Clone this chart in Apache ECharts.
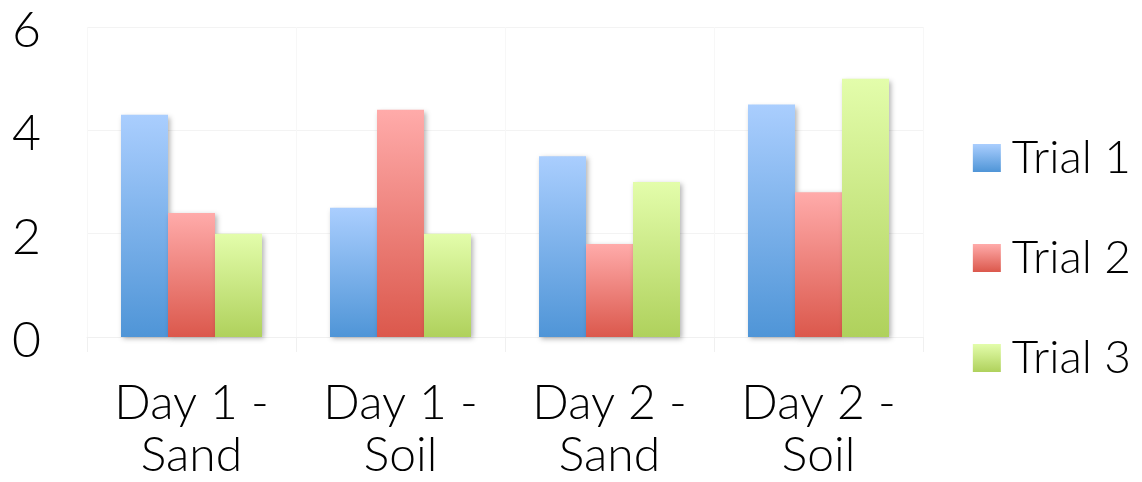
<!DOCTYPE html>
<html><head><meta charset="utf-8">
<script src="https://cdn.jsdelivr.net/npm/echarts@6/dist/echarts.min.js"></script>
<style>html,body{margin:0;padding:0;background:#fff}#c{width:1142px;height:482px}</style>
</head><body><div id="c"></div>
<script>
const categories = ['Day 1 -\nSand', 'Day 1 -\nSoil', 'Day 2 -\nSand', 'Day 2 -\nSoil'];
const seriesNames = ['Trial 1', 'Trial 2', 'Trial 3'];
const trial1 = [4.3, 2.5, 3.5, 4.5];
const trial2 = [2.4, 4.4, 1.8, 2.8];
const trial3 = [2.0, 2.0, 3.0, 5.0];
const yTicks = [0, 2, 4, 6];

const grads = [['#aacefe', '#4f95d7'], ['#ffabaa', '#db584c'], ['#e3fdab', '#afd15c']];
function grad(c) {
  return new echarts.graphic.LinearGradient(0, 0, 0, 1, [{offset: 0, color: c[0]}, {offset: 1, color: c[1]}]);
}
const FONT = 'Lato';
const chart = echarts.init(document.getElementById('c'));
const data = [trial1, trial2, trial3];
chart.setOption({
  animation: false,
  grid: {left: 87, right: 219, top: 27, bottom: 141},
  legend: {
    orient: 'vertical', right: 6, top: 125,
    itemWidth: 28, itemHeight: 28, itemGap: 44,
    icon: 'rect',
    textStyle: {fontFamily: FONT, fontWeight: 300, fontSize: 46, color: '#000', lineHeight: 56, padding: [0,0,0,6]},
    data: seriesNames
  },
  xAxis: {
    type: 'category', data: categories,
    axisLine: {show: true, lineStyle: {color: '#f0f0f0'}},
    axisTick: {show: true, length: 15, lineStyle: {color: '#f0f0f0'}},
    splitLine: {show: true, lineStyle: {color: '#f7f7f7'}},
    axisLabel: {fontFamily: FONT, fontWeight: 300, fontSize: 48, color: '#000', lineHeight: 52, margin: 41}
  },
  yAxis: {
    type: 'value', min: yTicks[0], max: yTicks[yTicks.length - 1], interval: 2,
    axisLine: {show: false}, axisTick: {show: false},
    splitLine: {lineStyle: {color: '#f3f3f3'}},
    axisLabel: {
      fontFamily: FONT, fontWeight: 300, fontSize: 50, color: '#000', margin: 46, align: 'right',
      formatter: v => '{a|' + v + '}',
      rich: {a: {fontFamily: FONT, fontWeight: 300, fontSize: 50, color: '#000', padding: [8, 0, 0, 0]}}
    }
  },
  series: seriesNames.map((n, i) => ({
    name: n, type: 'bar', data: data[i],
    barWidth: 47, barGap: '0%',
    itemStyle: {color: grad(grads[i]), shadowColor: 'rgba(0,0,0,0.3)', shadowBlur: 5, shadowOffsetX: 2, shadowOffsetY: 2}
  }))
});
</script></body></html>
